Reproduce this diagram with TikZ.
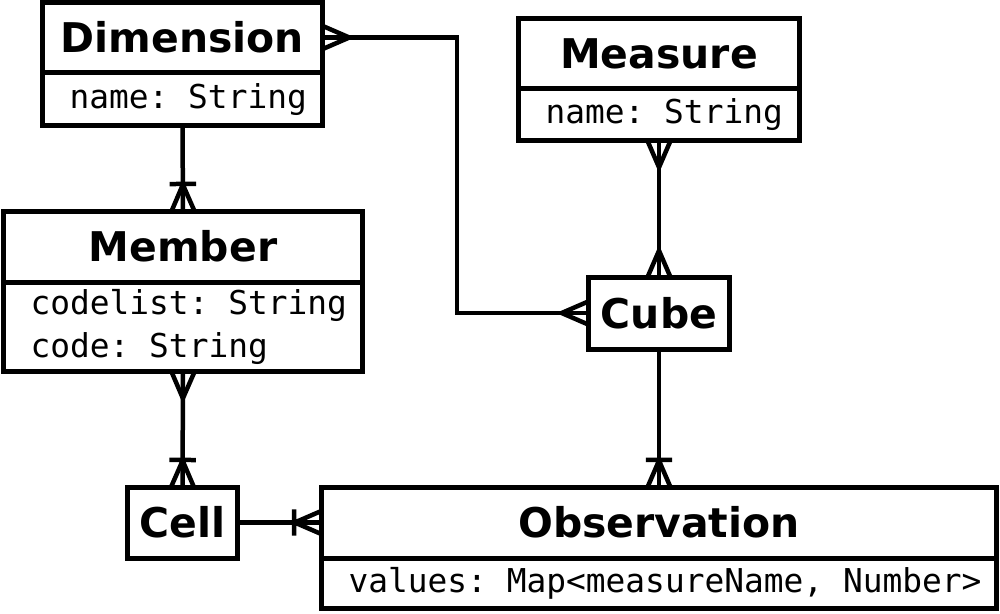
\documentclass[tikz,border=0pt]{standalone}
\usepackage{fontspec}
\setsansfont{DejaVu Sans}
\setmonofont{DejaVu Sans Mono}
\usetikzlibrary{positioning}

% crow's foot tips
\pgfdeclarearrow{
  name = crow,
  setup code = {
    \pgfarrowssettipend{0pt}
    \pgfarrowssetlineend{0pt}
    \pgfarrowssetbackend{-15pt}
    \pgfarrowssetvisualbackend{-15pt}
    \pgfarrowshullpoint{0pt}{6.5pt}
    \pgfarrowshullpoint{0pt}{-6.5pt}
    \pgfarrowshullpoint{-15pt}{0pt}
  },
  drawing code = {
    \pgfsetroundjoin
    \pgfpathmoveto{\pgfqpoint{0pt}{6.5pt}}
    \pgfpathlineto{\pgfqpoint{-15pt}{0pt}}
    \pgfpathlineto{\pgfqpoint{0pt}{-6.5pt}}
    \pgfusepathqstroke
  }
}
\pgfdeclarearrow{
  name = crowbar,
  setup code = {
    \pgfarrowssettipend{0pt}
    \pgfarrowssetlineend{0pt}
    \pgfarrowssetbackend{-16pt}
    \pgfarrowssetvisualbackend{-16pt}
    \pgfarrowshullpoint{0pt}{7.5pt}
    \pgfarrowshullpoint{0pt}{-7.5pt}
    \pgfarrowshullpoint{-16pt}{7.5pt}
    \pgfarrowshullpoint{-16pt}{-7.5pt}
  },
  drawing code = {
    \pgfsetroundjoin
    \pgfpathmoveto{\pgfqpoint{0pt}{6.5pt}}
    \pgfpathlineto{\pgfqpoint{-15pt}{0pt}}
    \pgfpathlineto{\pgfqpoint{0pt}{-6.5pt}}
    \pgfpathmoveto{\pgfqpoint{-15.4pt}{7.5pt}}
    \pgfpathlineto{\pgfqpoint{-15.4pt}{-7.5pt}}
    \pgfusepathqstroke
  }
}

\newcommand{\titlefont}{\sffamily\bfseries\fontsize{23.3}{28}\selectfont}
\newcommand{\attrfont}{\ttfamily\fontsize{18.7}{24.4}\selectfont}

\tikzset{
  entity/.style={draw, line width=0.1cm, outer sep=0pt, inner sep=0pt, font=\titlefont},
  attrs/.style={draw, line width=0.1cm, outer sep=0pt, inner xsep=0pt, inner ysep=0pt,
    text width=#1, align=left, font=\attrfont,
    execute at begin node={\leftskip=0.55cm\spaceskip=0pt\xspaceskip=0pt}},
  link/.style={line width=0.09cm},
}

\begin{document}
\begin{tikzpicture}[x=0.02cm, y=-0.02cm]
  \useasboundingbox (0,0) rectangle (1000,613);

  \node[entity, minimum width=5.62cm, minimum height=1.42cm] (dim) at (182.5,37.5) {Dimension};
  \node[attrs=5.62cm, minimum height=1.06cm, below=0pt of dim] (dimA) {name: String};

  \node[entity, minimum width=5.64cm, minimum height=1.42cm] (meas) at (659,53.5) {Measure};
  \node[attrs=5.64cm, minimum height=1.04cm, below=0pt of meas] (measA) {name: String};

  \node[entity, minimum width=7.2cm, minimum height=1.42cm] (mem) at (183,246.5) {Member};
  \node[attrs=7.2cm, minimum height=1.8cm, below=0pt of mem] (memA) {codelist: String\\code: String};

  \node[entity, minimum width=2.84cm, minimum height=1.44cm] (cube) at (659,313) {Cube};
  \node[entity, minimum width=2.22cm, minimum height=1.42cm] (cell) at (182.5,522.5) {Cell};

  \node[entity, minimum width=13.52cm, minimum height=1.42cm] (obs) at (659,522.5) {Observation};
  \node[attrs=13.52cm, minimum height=1.02cm, below=0pt of obs] (obsA) {values: Map<measureName, Number>};

  \coordinate (turn) at (457,0);

  \draw[link, crow-crow] (dim.east) -- (dim.east -| turn) |- (cube.west);
  \draw[link, crow-crow] (measA.south) -- (cube.north);
  \draw[link, -crowbar] (dimA.south) -- (mem.north);
  \draw[link, crow-crowbar] (memA.south) -- (cell.north);
  \draw[link, -crowbar] (cube.south) -- (obs.north);
  \draw[link, -crowbar] (cell.east) -- (obs.west);

\end{tikzpicture}
\end{document}
